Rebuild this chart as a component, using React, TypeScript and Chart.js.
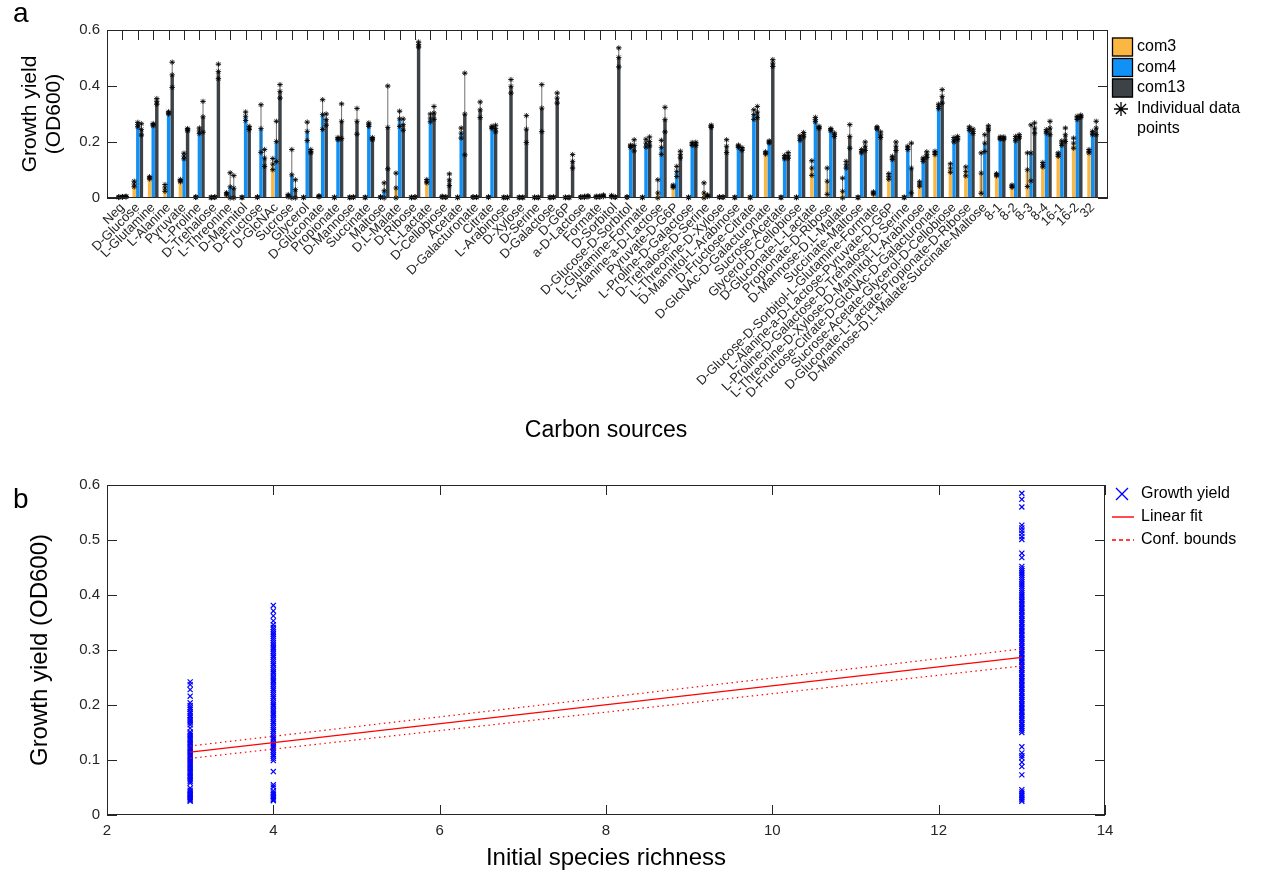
import React, { useEffect, useRef } from 'react';
import { Chart, registerables } from 'chart.js';

Chart.register(...registerables);

const FONT = '"Liberation Sans", Arial, Helvetica, sans-serif';
const INK = '#262626';
const COLOR_COM3 = '#FCB642';
const COLOR_COM4 = '#1190F5';
const COLOR_COM13 = '#3D4246';
const FIT_RED = '#FF0000';
const MARK_BLUE = '#0000FF';

// ---- Panel a: growth yield per carbon source ----
const CARBON_SOURCES = [
  'Neg', 'D-Glucose', 'L-Glutamine', 'L-Alanine', 'Pyruvate', 'L-Proline', 'D-Trehalose', 'L-Threonine',
  'D-Mannitol', 'D-Fructose', 'D-GlcNAc', 'Sucrose', 'Glycerol', 'D-Gluconate', 'Propionate', 'D-Mannose',
  'Succinate', 'Maltose', 'D,L-Malate', 'D-Ribose', 'L-Lactate', 'D-Cellobiose', 'Acetate', 'D-Galacturonate',
  'Citrate', 'L-Arabinose', 'D-Xylose', 'D-Serine', 'D-Galactose', 'D-G6P', 'a-D-Lactose', 'Formate',
  'D-Sorbitol', 'D-Glucose-D-Sorbitol', 'L-Glutamine-Formate', 'L-Alanine-a-D-Lactose', 'Pyruvate-D-G6P',
  'L-Proline-D-Galactose', 'D-Trehalose-D-Serine', 'L-Threonine-D-Xylose', 'D-Mannitol-L-Arabinose',
  'D-Fructose-Citrate', 'D-GlcNAc-D-Galacturonate', 'Sucrose-Acetate', 'Glycerol-D-Cellobiose',
  'D-Gluconate-L-Lactate', 'Propionate-D-Ribose', 'D-Mannose-D,L-Malate', 'Succinate-Maltose',
  'D-Glucose-D-Sorbitol-L-Glutamine-Formate', 'L-Alanine-a-D-Lactose-Pyruvate-D-G6P',
  'L-Proline-D-Galactose-D-Trehalose-D-Serine', 'L-Threonine-D-Xylose-D-Mannitol-L-Arabinose',
  'D-Fructose-Citrate-D-GlcNAc-D-Galacturonate', 'Sucrose-Acetate-Glycerol-D-Cellobiose',
  'D-Gluconate-L-Lactate-Propionate-D-Ribose', 'D-Mannose-D,L-Malate-Succinate-Maltose',
  '8-1', '8-2', '8-3', '8-4', '16-1', '16-2', '32',
];

const COM3_MEAN = [
  0.003, 0.050, 0.072, 0.036, 0.062, 0.003, 0.002, 0.015,
  0.002, 0.003, 0.121, 0.008, 0.002, 0.006, 0.002, 0.002,
  0.002, 0.003, 0.036, 0.002, 0.060, 0.004, 0.002, 0.003,
  0.003, 0.002, 0.002, 0.002, 0.002, 0.002, 0.003, 0.004,
  0.006, 0.003, 0.002, 0.018, 0.042, 0.002, 0.018, 0.003,
  0.002, 0.002, 0.161, 0.002, 0.002, 0.107, 0.060, 0.024,
  0.002, 0.018, 0.077, 0.002, 0.050, 0.161, 0.107, 0.095,
  0.089, 0.083, 0.042, 0.101, 0.119, 0.155, 0.196, 0.167,
];
const COM3_SD = [
  0.001, 0.010, 0.004, 0.012, 0.004, 0.001, 0.001, 0.004,
  0.001, 0.001, 0.020, 0.004, 0.001, 0.002, 0.001, 0.001,
  0.001, 0.001, 0.053, 0.001, 0.006, 0.002, 0.001, 0.001,
  0.001, 0.001, 0.001, 0.001, 0.001, 0.001, 0.001, 0.002,
  0.003, 0.001, 0.001, 0.047, 0.004, 0.001, 0.036, 0.001,
  0.001, 0.001, 0.004, 0.001, 0.001, 0.026, 0.047, 0.047,
  0.001, 0.004, 0.010, 0.001, 0.008, 0.006, 0.015, 0.016,
  0.072, 0.004, 0.004, 0.060, 0.008, 0.006, 0.018, 0.006,
];
const COM4_MEAN = [
  0.004, 0.262, 0.262, 0.304, 0.150, 0.240, 0.003, 0.040,
  0.292, 0.248, 0.202, 0.083, 0.238, 0.298, 0.212, 0.003,
  0.262, 0.026, 0.283, 0.003, 0.286, 0.003, 0.232, 0.003,
  0.252, 0.002, 0.002, 0.002, 0.003, 0.002, 0.004, 0.005,
  0.003, 0.185, 0.196, 0.181, 0.095, 0.193, 0.008, 0.003,
  0.185, 0.298, 0.200, 0.146, 0.214, 0.280, 0.244, 0.119,
  0.167, 0.250, 0.143, 0.179, 0.137, 0.327, 0.208, 0.248,
  0.196, 0.214, 0.212, 0.161, 0.238, 0.196, 0.286, 0.232,
];
const COM4_SD = [
  0.001, 0.008, 0.004, 0.004, 0.010, 0.010, 0.001, 0.050,
  0.015, 0.085, 0.072, 0.090, 0.033, 0.053, 0.004, 0.001,
  0.006, 0.028, 0.027, 0.001, 0.014, 0.001, 0.018, 0.001,
  0.004, 0.001, 0.001, 0.001, 0.001, 0.001, 0.002, 0.002,
  0.001, 0.004, 0.014, 0.025, 0.018, 0.005, 0.003, 0.001,
  0.004, 0.017, 0.004, 0.006, 0.008, 0.008, 0.004, 0.012,
  0.006, 0.004, 0.006, 0.006, 0.006, 0.008, 0.008, 0.006,
  0.030, 0.004, 0.008, 0.100, 0.006, 0.008, 0.006, 0.006,
];
const COM13_MEAN = [
  0.005, 0.245, 0.345, 0.440, 0.244, 0.290, 0.452, 0.035,
  0.250, 0.143, 0.381, 0.030, 0.167, 0.280, 0.274, 0.274,
  0.212, 0.252, 0.262, 0.548, 0.304, 0.065, 0.300, 0.315,
  0.248, 0.399, 0.246, 0.321, 0.357, 0.131, 0.006, 0.008,
  0.502, 0.188, 0.202, 0.280, 0.155, 0.193, 0.256, 0.185,
  0.175, 0.307, 0.482, 0.152, 0.226, 0.252, 0.226, 0.220,
  0.185, 0.226, 0.185, 0.107, 0.155, 0.363, 0.214, 0.238,
  0.250, 0.214, 0.220, 0.250, 0.250, 0.226, 0.292, 0.250,
];
const COM13_SD = [
  0.001, 0.020, 0.010, 0.045, 0.004, 0.055, 0.026, 0.045,
  0.006, 0.030, 0.024, 0.035, 0.006, 0.020, 0.062, 0.046,
  0.004, 0.148, 0.020, 0.009, 0.023, 0.021, 0.146, 0.028,
  0.012, 0.024, 0.048, 0.084, 0.018, 0.024, 0.002, 0.003,
  0.034, 0.020, 0.016, 0.044, 0.012, 0.006, 0.004, 0.023,
  0.005, 0.020, 0.012, 0.010, 0.008, 0.004, 0.006, 0.042,
  0.015, 0.010, 0.015, 0.089, 0.010, 0.024, 0.006, 0.008,
  0.008, 0.004, 0.006, 0.018, 0.024, 0.024, 0.004, 0.024,
];
const TOP_Y_TICKS = [0, 0.2, 0.4, 0.6];

// ---- Panel b: growth yield against initial species richness ----
const RICHNESS = [3, 4, 13];
const YIELD_RICH3 = [
  0.242, 0.237, 0.228, 0.216, 0.204, 0.199, 0.195, 0.192, 0.188, 0.185, 0.181, 0.178, 0.174,
  0.171, 0.168, 0.164, 0.158, 0.151, 0.148, 0.145, 0.142, 0.139, 0.136, 0.133, 0.130, 0.127,
  0.124, 0.121, 0.118, 0.115, 0.112, 0.109, 0.106, 0.103, 0.100, 0.097, 0.094, 0.091, 0.088,
  0.085, 0.082, 0.079, 0.076, 0.073, 0.070, 0.067, 0.064, 0.061, 0.058, 0.049, 0.045, 0.042,
  0.039, 0.037, 0.035, 0.033, 0.031, 0.029, 0.027, 0.025,
];
const YIELD_RICH4 = [
  0.381, 0.371, 0.362, 0.353, 0.346, 0.341, 0.337, 0.333, 0.329, 0.325, 0.321, 0.317, 0.313,
  0.309, 0.305, 0.302, 0.298, 0.294, 0.290, 0.287, 0.283, 0.279, 0.275, 0.272, 0.268, 0.264,
  0.260, 0.257, 0.253, 0.249, 0.245, 0.242, 0.238, 0.234, 0.230, 0.227, 0.223, 0.219, 0.215,
  0.212, 0.208, 0.204, 0.200, 0.197, 0.193, 0.189, 0.185, 0.182, 0.178, 0.174, 0.170, 0.167,
  0.163, 0.159, 0.155, 0.152, 0.148, 0.144, 0.140, 0.137, 0.133, 0.129, 0.125, 0.122, 0.118,
  0.114, 0.110, 0.107, 0.103, 0.099, 0.079, 0.055, 0.051, 0.044, 0.040, 0.037, 0.034, 0.031,
  0.028, 0.026,
];
const YIELD_RICH13 = [
  0.585, 0.574, 0.560, 0.527, 0.522, 0.517, 0.512, 0.506, 0.501, 0.476, 0.468, 0.452, 0.448,
  0.444, 0.440, 0.436, 0.432, 0.428, 0.424, 0.420, 0.416, 0.412, 0.408, 0.404, 0.400, 0.396,
  0.392, 0.389, 0.385, 0.382, 0.378, 0.375, 0.371, 0.368, 0.364, 0.361, 0.357, 0.354, 0.350,
  0.347, 0.343, 0.340, 0.336, 0.333, 0.329, 0.326, 0.322, 0.319, 0.315, 0.312, 0.308, 0.305,
  0.301, 0.298, 0.294, 0.291, 0.287, 0.284, 0.280, 0.277, 0.273, 0.270, 0.266, 0.263, 0.259,
  0.256, 0.252, 0.249, 0.245, 0.242, 0.238, 0.235, 0.231, 0.228, 0.224, 0.221, 0.217, 0.214,
  0.210, 0.207, 0.203, 0.200, 0.196, 0.193, 0.189, 0.186, 0.182, 0.179, 0.175, 0.172, 0.168,
  0.165, 0.161, 0.158, 0.154, 0.150, 0.124, 0.113, 0.108, 0.104, 0.096, 0.088, 0.073, 0.046,
  0.042, 0.038, 0.035, 0.031, 0.028, 0.025,
];
const FIT_X = [3, 13];
const FIT_Y = [0.1145, 0.2865];
const FIT_UPPER = [0.1255, 0.302];
const FIT_LOWER = [0.103, 0.271];
const BOTTOM_X_TICKS = [2, 4, 6, 8, 10, 12, 14];
const BOTTOM_Y_TICKS = [0, 0.1, 0.2, 0.3, 0.4, 0.5, 0.6];

const fmtTick = (v: number) => (v === 0 ? '0' : String(Math.round(v * 10) / 10));

function drawStar(ctx: CanvasRenderingContext2D, x: number, y: number, r: number) {
  const d = r * 0.72;
  ctx.beginPath();
  ctx.moveTo(x - r, y); ctx.lineTo(x + r, y);
  ctx.moveTo(x, y - r); ctx.lineTo(x, y + r);
  ctx.moveTo(x - d, y - d); ctx.lineTo(x + d, y + d);
  ctx.moveTo(x - d, y + d); ctx.lineTo(x + d, y - d);
  ctx.stroke();
}

function drawFrame(ctx: CanvasRenderingContext2D, a: any) {
  ctx.save();
  ctx.strokeStyle = INK;
  ctx.lineWidth = 1;
  const l = Math.round(a.left) + 0.5, r = Math.round(a.right) - 0.5;
  const t = Math.round(a.top) + 0.5, b = Math.round(a.bottom) - 0.5;
  ctx.strokeRect(l, t, r - l, b - t);
  ctx.restore();
}

function text(ctx: CanvasRenderingContext2D, s: string, x: number, y: number, size: number,
  align: CanvasTextAlign = 'left', rot = 0, color = '#000') {
  ctx.save();
  ctx.translate(x, y);
  if (rot) ctx.rotate(rot);
  ctx.font = `${size}px ${FONT}`;
  ctx.fillStyle = color;
  ctx.textAlign = align;
  ctx.textBaseline = 'middle';
  ctx.fillText(s, 0, 0);
  ctx.restore();
}

const SERIES = [
  { name: 'com3', mean: COM3_MEAN, sd: COM3_SD, color: COLOR_COM3 },
  { name: 'com4', mean: COM4_MEAN, sd: COM4_SD, color: COLOR_COM4 },
  { name: 'com13', mean: COM13_MEAN, sd: COM13_SD, color: COLOR_COM13 },
];

const topDecor = {
  id: 'topDecor',
  beforeDatasetsDraw(chart: any) {
    const { ctx, chartArea: a, scales } = chart;
    ctx.save();
    ctx.strokeStyle = INK;
    ctx.lineWidth = 1;
    ctx.beginPath();
    for (let i = 1; i <= CARBON_SOURCES.length; i++) {
      const x = Math.round(scales.x.getPixelForValue(i)) + 0.5;
      ctx.moveTo(x, a.top); ctx.lineTo(x, a.top + 10);
    }
    for (const v of TOP_Y_TICKS) {
      const y = Math.round(scales.y.getPixelForValue(v)) + 0.5;
      ctx.moveTo(a.left, y); ctx.lineTo(a.left + 10, y);
      ctx.moveTo(a.right, y); ctx.lineTo(a.right - 10, y);
    }
    ctx.stroke();
    ctx.restore();
  },
  afterDatasetsDraw(chart: any) {
    const { ctx, scales } = chart;
    const ys = scales.y;
    ctx.save();
    SERIES.forEach((s, d) => {
      const meta = chart.getDatasetMeta(d);
      s.mean.forEach((m, i) => {
        const bar = meta.data[i + 1];
        const x = bar.x;
        const e = s.sd[i];
        const yHi = ys.getPixelForValue(m + e);
        const yLo = ys.getPixelForValue(Math.max(0, m - e));
        ctx.strokeStyle = '#4a4a4a';
        ctx.lineWidth = 0.8;
        ctx.beginPath();
        ctx.moveTo(x, yLo); ctx.lineTo(x, yHi);
        ctx.moveTo(x - 2.5, yHi); ctx.lineTo(x + 2.5, yHi);
        ctx.moveTo(x - 2.5, yLo); ctx.lineTo(x + 2.5, yLo);
        ctx.stroke();
        ctx.strokeStyle = '#000';
        ctx.lineWidth = 0.8;
        for (const v of [m + e, m, Math.max(0, m - e)]) {
          drawStar(ctx, x, ys.getPixelForValue(v), 2.7);
        }
      });
    });
    ctx.restore();
    drawFrame(ctx, chart.chartArea);
  },
  afterDraw(chart: any) {
    const { ctx } = chart;
    text(ctx, 'a', 13, 14, 28);
    text(ctx, 'Growth yield', 30, 114, 21, 'center', -Math.PI / 2);
    text(ctx, '(OD600)', 54, 114, 21, 'center', -Math.PI / 2);
    text(ctx, 'Carbon sources', 606, 431, 23, 'center');
    // legend
    const rows = [47, 67.5, 88];
    SERIES.forEach((s, k) => {
      ctx.save();
      ctx.fillStyle = s.color;
      ctx.fillRect(1112, rows[k] - 9.5, 21, 19);
      ctx.strokeStyle = '#000';
      ctx.lineWidth = 1.3;
      ctx.strokeRect(1112.5, rows[k] - 9, 20, 18);
      ctx.restore();
      text(ctx, s.name, 1137, rows[k], 16);
    });
    ctx.save();
    ctx.strokeStyle = '#000';
    ctx.lineWidth = 1.3;
    drawStar(ctx, 1121, 109, 7);
    ctx.restore();
    text(ctx, 'Individual data', 1137, 109, 16);
    text(ctx, 'points', 1137, 128.5, 16);
  },
};

const bottomDecor = {
  id: 'bottomDecor',
  beforeDatasetsDraw(chart: any) {
    const { ctx, chartArea: a, scales } = chart;
    ctx.save();
    ctx.strokeStyle = INK;
    ctx.lineWidth = 1;
    ctx.beginPath();
    for (const v of BOTTOM_X_TICKS) {
      const x = Math.round(scales.x.getPixelForValue(v)) + 0.5;
      ctx.moveTo(x, a.bottom); ctx.lineTo(x, a.bottom - 10);
      ctx.moveTo(x, a.top); ctx.lineTo(x, a.top + 10);
    }
    for (const v of BOTTOM_Y_TICKS) {
      const y = Math.round(scales.y.getPixelForValue(v)) + 0.5;
      ctx.moveTo(a.left, y); ctx.lineTo(a.left + 10, y);
      ctx.moveTo(a.right, y); ctx.lineTo(a.right - 10, y);
    }
    ctx.stroke();
    ctx.restore();
    drawFrame(ctx, a);
  },
  afterDraw(chart: any) {
    const { ctx } = chart;
    text(ctx, 'b', 13, 50, 28);
    text(ctx, 'Growth yield (OD600)', 40, 200, 24, 'center', -Math.PI / 2);
    text(ctx, 'Initial species richness', 606, 408, 24, 'center');
    // legend
    ctx.save();
    ctx.strokeStyle = MARK_BLUE;
    ctx.lineWidth = 1.4;
    ctx.beginPath();
    ctx.moveTo(1116, 38); ctx.lineTo(1128, 50);
    ctx.moveTo(1116, 50); ctx.lineTo(1128, 38);
    ctx.stroke();
    ctx.strokeStyle = FIT_RED;
    ctx.lineWidth = 1.4;
    ctx.beginPath();
    ctx.moveTo(1112, 67); ctx.lineTo(1134, 67);
    ctx.stroke();
    ctx.setLineDash([4, 3]);
    ctx.beginPath();
    ctx.moveTo(1112, 90); ctx.lineTo(1134, 90);
    ctx.stroke();
    ctx.restore();
    text(ctx, 'Growth yield', 1141, 44, 16);
    text(ctx, 'Linear fit', 1141, 67, 16);
    text(ctx, 'Conf. bounds', 1141, 90, 16);
  },
};

export default function App() {
  const topRef = useRef<HTMLCanvasElement>(null);
  const bottomRef = useRef<HTMLCanvasElement>(null);

  useEffect(() => {
    Chart.defaults.font.family = FONT;
    const pad = (arr: number[]) => [null, ...arr, null];

    const top = new Chart(topRef.current as HTMLCanvasElement, {
      type: 'bar',
      data: {
        labels: ['', ...CARBON_SOURCES, ''],
        datasets: SERIES.map((s) => ({
          label: s.name,
          data: pad(s.mean) as any,
          backgroundColor: s.color,
          borderWidth: 0,
          categoryPercentage: 0.7,
          barPercentage: 0.96,
        })),
      },
      options: {
        responsive: false,
        animation: false,
        layout: { padding: { top: 30, right: 162, left: 0, bottom: 0 } },
        plugins: { legend: { display: false }, tooltip: { enabled: false } },
        scales: {
          x: {
            type: 'category',
            offset: false,
            grid: { display: false, drawTicks: false },
            border: { display: false },
            ticks: {
              autoSkip: false,
              maxRotation: 45,
              minRotation: 45,
              padding: 2,
              color: INK,
              font: { size: 13, family: FONT },
            },
            afterFit: (s: any) => { s.height = 252; },
          },
          y: {
            min: 0,
            max: 0.6,
            grid: { display: false, drawTicks: false },
            border: { display: false },
            ticks: {
              stepSize: 0.2,
              padding: 7,
              color: INK,
              font: { size: 15, family: FONT },
              callback: (v: any) => fmtTick(Number(v)),
            },
            afterFit: (s: any) => { s.width = 107; },
          },
        },
      } as any,
      plugins: [topDecor],
    });

    const scatterPoints = [
      ...YIELD_RICH3.map((y) => ({ x: RICHNESS[0], y })),
      ...YIELD_RICH4.map((y) => ({ x: RICHNESS[1], y })),
      ...YIELD_RICH13.map((y) => ({ x: RICHNESS[2], y })),
    ];
    const line = (ys: number[]) => FIT_X.map((x, i) => ({ x, y: ys[i] }));

    const bottom = new Chart(bottomRef.current as HTMLCanvasElement, {
      type: 'scatter',
      data: {
        datasets: [
          {
            label: 'Growth yield',
            data: scatterPoints,
            pointStyle: 'crossRot',
            pointRadius: 3.6,
            borderColor: MARK_BLUE,
            backgroundColor: MARK_BLUE,
            borderWidth: 1.2,
            order: 2,
          },
          {
            type: 'line',
            label: 'Linear fit',
            data: line(FIT_Y),
            borderColor: FIT_RED,
            borderWidth: 1.3,
            pointRadius: 0,
            order: 1,
          },
          {
            type: 'line',
            label: 'Conf. bounds',
            data: line(FIT_UPPER),
            borderColor: FIT_RED,
            borderWidth: 1.2,
            borderDash: [1.5, 3.5],
            pointRadius: 0,
            order: 1,
          },
          {
            type: 'line',
            label: 'Conf. bounds lower',
            data: line(FIT_LOWER),
            borderColor: FIT_RED,
            borderWidth: 1.2,
            borderDash: [1.5, 3.5],
            pointRadius: 0,
            order: 1,
          },
        ] as any,
      },
      options: {
        responsive: false,
        animation: false,
        layout: { padding: { top: 35, right: 165, left: 0, bottom: 0 } },
        plugins: { legend: { display: false }, tooltip: { enabled: false } },
        scales: {
          x: {
            type: 'linear',
            min: 2,
            max: 14,
            grid: { display: false, drawTicks: false },
            border: { display: false },
            ticks: { stepSize: 2, padding: 7, color: INK, font: { size: 15, family: FONT } },
            afterFit: (s: any) => { s.height = 62; },
          },
          y: {
            type: 'linear',
            min: 0,
            max: 0.6,
            grid: { display: false, drawTicks: false },
            border: { display: false },
            ticks: {
              stepSize: 0.1,
              padding: 7,
              color: INK,
              font: { size: 15, family: FONT },
              callback: (v: any) => fmtTick(Number(v)),
            },
            afterFit: (s: any) => { s.width = 107; },
          },
        },
      } as any,
      plugins: [bottomDecor],
    });

    return () => {
      top.destroy();
      bottom.destroy();
    };
  }, []);

  return (
    <div style={{ position: 'absolute', left: 0, top: 0, width: 1270, height: 877, background: '#fff' }}>
      <canvas
        ref={topRef}
        width={1270}
        height={450}
        style={{ position: 'absolute', left: 0, top: 0, width: 1270, height: 450 }}
      />
      <canvas
        ref={bottomRef}
        width={1270}
        height={427}
        style={{ position: 'absolute', left: 0, top: 450, width: 1270, height: 427 }}
      />
    </div>
  );
}
